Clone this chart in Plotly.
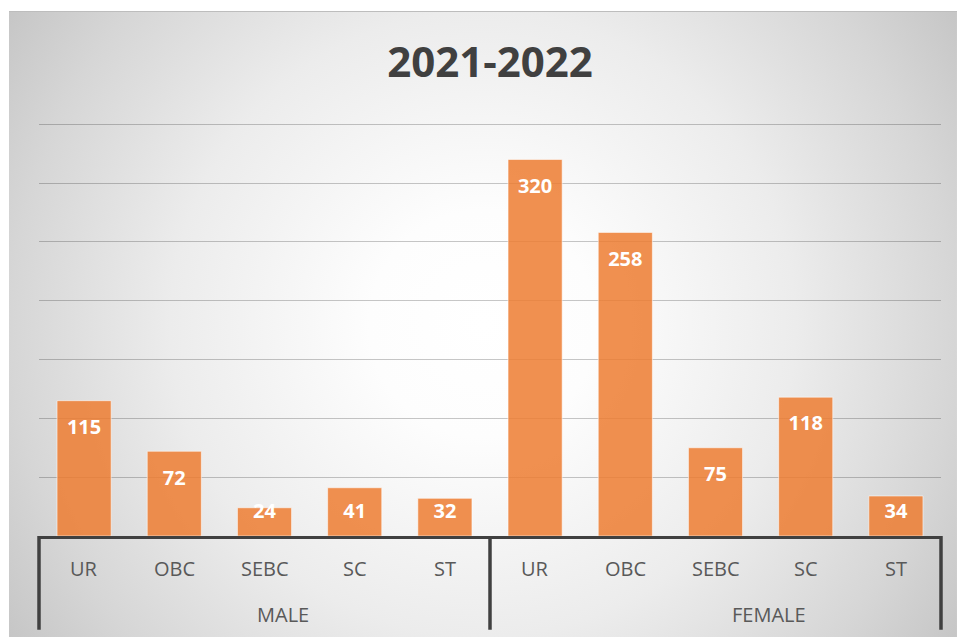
import base64
import numpy as np
import plotly.graph_objects as go

title = "2021-2022"
groups = ["MALE"] * 5 + ["FEMALE"] * 5
categories = ["UR", "OBC", "SEBC", "SC", "ST"] * 2
values = [115, 72, 24, 41, 32, 320, 258, 75, 118, 34]
group_names = ["MALE", "FEMALE"]
y_max = 351
y_step = 50

# radial gradient background (chart area) as an SVG image
svg = """<svg xmlns='http://www.w3.org/2000/svg' width='948' height='626' viewBox='0 0 948 626' preserveAspectRatio='none'>
<defs><radialGradient id='g' gradientUnits='userSpaceOnUse' cx='474' cy='313' r='568'>
<stop offset='0' stop-color='#ffffff'/><stop offset='0.2' stop-color='#fdfdfd'/>
<stop offset='0.55' stop-color='#ececec'/><stop offset='0.83' stop-color='#d6d6d6'/>
<stop offset='1' stop-color='#c6c6c6'/></radialGradient></defs>
<rect x='0' y='0' width='948' height='626' fill='url(#g)'/>
<line x1='0' y1='0.5' x2='948' y2='0.5' stroke='#bdbdbd' stroke-width='1'/>
</svg>"""
src = "data:image/svg+xml;base64," + base64.b64encode(svg.encode()).decode()

vals = np.array(values, dtype=float)
label_y = np.maximum(vals - 24, 19.5)
n = len(values)

fig = go.Figure()
fig.add_trace(go.Bar(
    x=[groups, categories], y=values,
    marker=dict(color="rgba(237,125,49,0.85)", line=dict(color="rgba(255,255,255,0.55)", width=1)),
    width=0.6, hoverinfo="skip", showlegend=False,
))
fig.add_trace(go.Scatter(
    x=[groups, categories], y=label_y, mode="text",
    text=[str(v) for v in values], textposition="middle center",
    textfont=dict(family="Open Sans", size=20, color="white", weight="bold"),
    hoverinfo="skip", showlegend=False, cliponaxis=False,
))

annotations = []
for i, c in enumerate(categories):
    annotations.append(dict(text=c, xref="paper", yref="paper", x=(i + 0.5) / n, y=-0.0775,
                            xanchor="center", yanchor="middle", showarrow=False,
                            font=dict(family="Open Sans", size=20, color="#595959")))
for gname, gx in zip(group_names, [0.2705, 0.809]):
    annotations.append(dict(text=gname, xref="paper", yref="paper", x=gx, y=-0.189,
                            xanchor="center", yanchor="middle", showarrow=False,
                            font=dict(family="Open Sans", size=20, color="#595959")))

fig.update_layout(
    width=957, height=637,
    margin=dict(l=39, r=16, t=123, b=101),
    paper_bgcolor="white", plot_bgcolor="rgba(0,0,0,0)",
    title=dict(text="<b>" + title + "</b>", x=0.512, xanchor="center", y=0.902, yanchor="middle",
               font=dict(family="Open Sans", size=42, color="#404040")),
    font=dict(family="Open Sans", color="#595959"),
    images=[dict(source=src, xref="paper", yref="paper", x=-0.0333, y=1.2712,
                 sizex=1.051, sizey=1.5158, sizing="stretch", xanchor="left", yanchor="top",
                 layer="below")],
    bargap=0.4,
    annotations=annotations,
)
fig.update_yaxes(range=[0, y_max], dtick=y_step, showticklabels=False, showgrid=True,
                 gridcolor="rgba(0,0,0,0.22)", gridwidth=1.3, zeroline=False, showline=False)
fig.update_xaxes(type="multicategory", showline=True, linecolor="#404040", linewidth=3,
                 showdividers=False, ticks="", showticklabels=False, showgrid=False)
for xp in [0, 0.5, 1]:
    fig.add_shape(type="line", xref="paper", yref="paper", x0=xp, x1=xp, y0=0, y1=-0.227,
                  line=dict(color="#404040", width=3.5))

fig.write_html("out.html", config={"displayModeBar": False},
               post_script="document.body.style.margin='0';")
